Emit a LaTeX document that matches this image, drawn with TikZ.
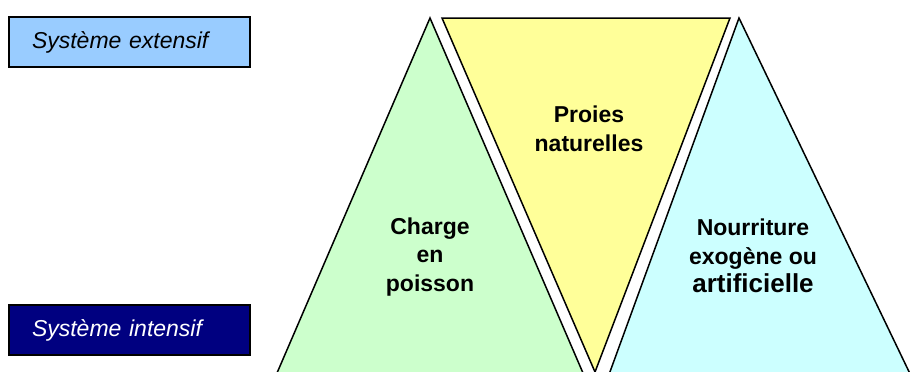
\documentclass[tikz,border=0pt]{standalone}
\usepackage{fontspec}
\setmainfont{Liberation Sans}
\usetikzlibrary{positioning}
\definecolor{mint}{RGB}{204,255,204}
\definecolor{butter}{RGB}{255,255,153}
\definecolor{ice}{RGB}{204,255,255}
\definecolor{sky}{RGB}{153,204,255}
\definecolor{marine}{RGB}{0,0,128}

\begin{document}
\begin{tikzpicture}[x=1pt,y=-1pt,
    wedge/.style={draw=black,line width=1.5pt,line join=miter},
    sysbox/.style={draw=black,line width=1.5pt,text width=195pt,minimum height=50pt,
      inner xsep=23pt,align=left,font=\fontsize{23}{27}\selectfont\itshape},
    tag/.style={align=center,inner sep=0pt,font=\fontsize{23}{28.5}\selectfont\bfseries}]
    \useasboundingbox (0,0) rectangle (911,372);
    \begin{scope}
      \clip (0,0) rectangle (911,372);
      % the three wedges
      \filldraw[wedge,fill=mint] (430,18) -- (274,380) -- (586,380) -- cycle;
      \filldraw[wedge,fill=butter] (442,18) -- (730,18) -- (595,372) -- cycle;
      \filldraw[wedge,fill=ice] (739,18) -- (607,380) -- (913,380) -- cycle;
    \end{scope}
    \node[tag] (charge) at (430,257) {Charge\\en\\poisson};
    \node[tag] (proies) at (589,129) {Proies\\naturelles};
    \node[tag] (food) at (753,256) {Nourriture\\exogène ou\\{\fontsize{26}{28.5}\selectfont artificielle}};
    % the two systems
    \node[sysbox,fill=sky] (ext) at (129.5,42) {Système extensif};
    \node[sysbox,fill=marine,text=white] (int) at (129.5,330) {Système intensif};
  \end{tikzpicture}
\end{document}
